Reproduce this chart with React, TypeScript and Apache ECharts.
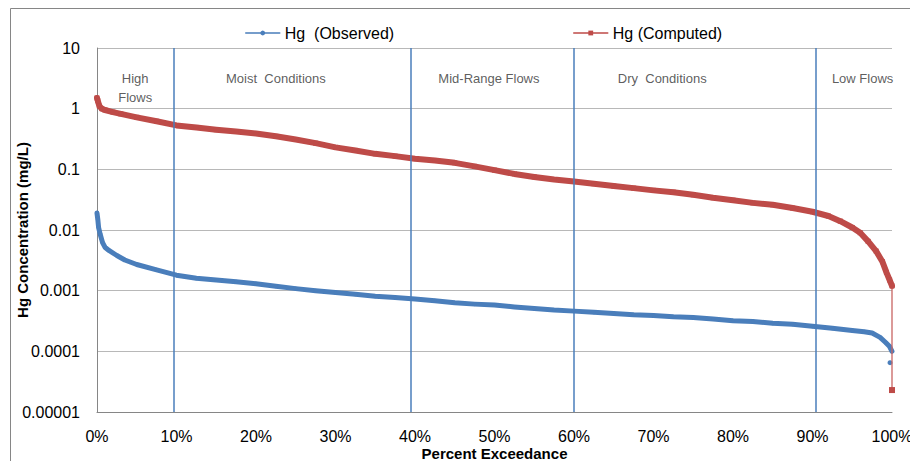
import React, { useEffect, useRef } from 'react';
import * as echarts from 'echarts';

// ---- data ----
const seriesNames = ['Hg  (Observed)', 'Hg (Computed)'];

const obsPct = [0, 0.1, 0.2, 0.4, 0.7, 1, 1.5, 2.5, 3.5, 5, 7.5, 10, 12.5, 15, 17.5, 20, 22.5, 25, 27.5, 30, 32.5, 35, 37.5, 40, 42.5, 45, 47.5, 50, 52.5, 55, 57.5, 60, 62.5, 65, 67.5, 70, 72.5, 75, 77.5, 80, 82.5, 85, 87.5, 90, 92.5, 95, 96.5, 97.5, 98.5, 99.2, 99.7, 100];
const obsVal = [0.019, 0.015, 0.011, 0.0085, 0.0062, 0.0052, 0.0046, 0.0038, 0.0032, 0.0027, 0.0022, 0.0018, 0.0016, 0.0015, 0.0014, 0.0013, 0.00118, 0.00108, 0.001, 0.00093, 0.00087, 0.00081, 0.00077, 0.00073, 0.00068, 0.00063, 0.0006, 0.00058, 0.00054, 0.00051, 0.00048, 0.00046, 0.00044, 0.00042, 0.0004, 0.00039, 0.00037, 0.00036, 0.00034, 0.00032, 0.00031, 0.00029, 0.00028, 0.00026, 0.00024, 0.00022, 0.00021, 0.0002, 0.00017, 0.00014, 0.00012, 0.0001];
const obsTailPct = [100, 99.75];
const obsTailVal = [0.0001, 0.000065];

const compPct = [0, 0.1, 0.3, 0.6, 1, 2, 3, 5, 7.5, 10, 12.5, 15, 17.5, 20, 22.5, 25, 27.5, 30, 32.5, 35, 37.5, 40, 42.5, 45, 47.5, 50, 52.5, 55, 57.5, 60, 62.5, 65, 67.5, 70, 72.5, 75, 77.5, 80, 82.5, 85, 87.5, 90, 92, 93.5, 95, 96, 97, 98, 98.8, 99.3, 99.7, 100];
const compVal = [1.5, 1.35, 1.1, 1.0, 0.95, 0.88, 0.82, 0.72, 0.62, 0.53, 0.49, 0.45, 0.42, 0.39, 0.35, 0.31, 0.27, 0.23, 0.205, 0.18, 0.165, 0.15, 0.14, 0.128, 0.112, 0.097, 0.084, 0.075, 0.068, 0.063, 0.058, 0.053, 0.049, 0.045, 0.042, 0.038, 0.034, 0.031, 0.028, 0.026, 0.023, 0.02, 0.017, 0.014, 0.011, 0.009, 0.0065, 0.0045, 0.003, 0.002, 0.0015, 0.0012];
const compTailPct = [100, 100];
const compTailVal = [0.0012, 0.000023];

const yTickLabels = ['0.00001', '0.0001', '0.001', '0.01', '0.1', '1', '10'];
const xTickStep = 10;

const zoneBoundaries = [9.6, 39.5, 60, 90.4];
const zoneNames = ['High\nFlows', 'Moist  Conditions', 'Mid-Range Flows', 'Dry  Conditions', 'Low Flows'];
const zoneLabelPct = [4.8, 22.5, 49.3, 71.1, 96.3];
const zoneLabelVal = [2.2, 3.1, 3.1, 3.1, 3.1];

const FONT = "'Liberation Sans', Arial, sans-serif";
const BLUE = '#4A7EBB';
const RED = '#BE4B48';

const zip = (xs: number[], ys: number[]) => xs.map((x, i) => [x, ys[i]]);

export default function App() {
  const ref = useRef<HTMLDivElement>(null);
  useEffect(() => {
    if (!ref.current) return;
    const chart = echarts.init(ref.current, undefined, { renderer: 'svg' });
    const option: any = {
      animation: false,
      backgroundColor: '#fff',
      textStyle: { fontFamily: FONT },
      graphic: [
        {
          type: 'rect',
          left: 8,
          top: 6,
          shape: { width: 1000, height: 1000 },
          style: { fill: 'none', stroke: '#868686', lineWidth: 1 },
          silent: true,
          z: -10,
        },
      ],
      legend: [
        {
          data: [seriesNames[0]],
          left: 240,
          top: 20,
          itemWidth: 34,
          itemHeight: 6,
          textStyle: { fontSize: 16, color: '#000', fontFamily: FONT },
          lineStyle: { width: 1.5 },
        },
        {
          data: [seriesNames[1]],
          left: 568,
          top: 20,
          itemWidth: 34,
          itemHeight: 6,
          textStyle: { fontSize: 16, color: '#000', fontFamily: FONT },
          lineStyle: { width: 1.5 },
        },
      ],
      grid: { left: 97, right: 18, top: 48, bottom: 49, containLabel: false, outerBoundsMode: 'none' },
      xAxis: {
        type: 'value',
        min: 0,
        max: 100,
        interval: xTickStep,
        name: 'Percent Exceedance',
        nameLocation: 'middle',
        nameGap: 34,
        nameMoveOverlap: false,
        nameTextStyle: { fontSize: 15, fontWeight: 'bold', color: '#000', fontFamily: FONT, verticalAlign: 'top' },
        axisLine: { lineStyle: { color: '#868686', width: 1 } },
        axisTick: { show: false },
        splitLine: { show: false },
        axisLabel: {
          formatter: (v: number) => `${v}%`,
          fontSize: 16,
          color: '#000',
          margin: 16,
          fontFamily: FONT,
        },
      },
      yAxis: {
        type: 'log',
        logBase: 10,
        min: 0.00001,
        max: 10,
        splitNumber: 6,
        name: 'Hg Concentration (mg/L)',
        nameLocation: 'middle',
        nameGap: 67,
        nameMoveOverlap: false,
        nameTextStyle: { fontSize: 15, fontWeight: 'bold', color: '#000', fontFamily: FONT },
        axisLine: { show: true, lineStyle: { color: '#868686', width: 1 } },
        axisTick: { show: false },
        splitLine: { show: true, lineStyle: { color: '#B8B8B8', width: 1 } },
        axisLabel: {
          formatter: (v: number) => {
            const i = Math.round(Math.log10(v)) + 5;
            return yTickLabels[i] ?? '';
          },
          fontSize: 16,
          color: '#000',
          margin: 17,
          fontFamily: FONT,
        },
      },
      series: [
        {
          name: seriesNames[0],
          type: 'line',
          data: zip(obsPct, obsVal),
          symbol: 'circle',
          symbolSize: 4,
          showSymbol: true,
          itemStyle: { color: BLUE },
          lineStyle: { color: BLUE, width: 5, cap: 'round', join: 'round' },
          z: 3,
          markLine: {
            silent: true,
            symbol: 'none',
            label: { show: false },
            lineStyle: { color: BLUE, width: 1.5, type: 'solid' },
            data: zoneBoundaries.map((b) => ({ xAxis: b })),
          },
        },
        {
          name: 'obsTail',
          type: 'line',
          data: zip(obsTailPct, obsTailVal).map((d, i) =>
            i === 0 ? { value: d, symbol: 'none' } : { value: d }
          ),
          symbol: 'circle',
          symbolSize: 5,
          itemStyle: { color: BLUE },
          lineStyle: { color: BLUE, width: 0 },
          z: 3,
        },
        {
          name: seriesNames[1],
          type: 'line',
          data: zip(compPct, compVal),
          symbol: 'rect',
          symbolSize: 5,
          showSymbol: true,
          itemStyle: { color: RED },
          lineStyle: { color: RED, width: 6, cap: 'round', join: 'round' },
          z: 4,
        },
        {
          name: 'compTail',
          type: 'line',
          data: zip(compTailPct, compTailVal).map((d, i) =>
            i === 0 ? { value: d, symbol: 'none' } : { value: d }
          ),
          symbol: 'rect',
          symbolSize: 6,
          itemStyle: { color: RED },
          lineStyle: { color: '#C86462', width: 1.3 },
          z: 4,
        },
        {
          name: 'zones',
          type: 'scatter',
          silent: true,
          symbolSize: 0,
          data: zoneNames.map((n, i) => ({ name: n, value: [zoneLabelPct[i], zoneLabelVal[i]] })),
          label: {
            show: true,
            position: 'inside',
            formatter: '{b}',
            fontSize: 13,
            lineHeight: 19,
            color: '#333',
            fontFamily: FONT,
            align: 'center',
          },
          z: 5,
        },
      ],
    };
    chart.setOption(option);
    return () => chart.dispose();
  }, []);
  return (
    <div
      ref={ref}
      style={{ position: 'fixed', left: 0, top: 0, width: 910, height: 461, background: '#fff' }}
    />
  );
}
